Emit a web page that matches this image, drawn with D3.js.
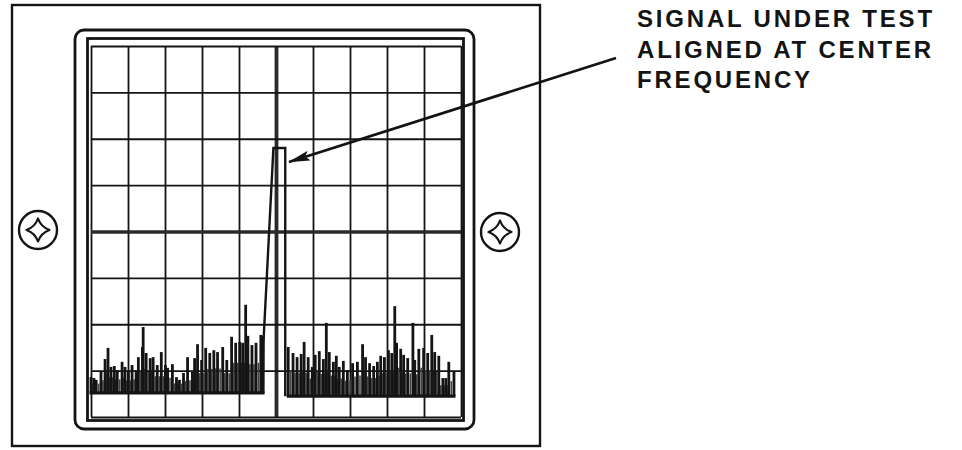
<!DOCTYPE html>
<html>
<head>
<meta charset="utf-8">
<script src="https://cdn.jsdelivr.net/npm/d3@7"></script>
<style>
  html, body { margin: 0; padding: 0; background: #fff; }
  svg { display: block; }
</style>
</head>
<body>
<svg id="chart" width="962" height="450"></svg>
<script>
// ---------------- DATA (graticule divisions) ----------------
const gridColumns = 10;          // horizontal divisions (frequency)
const gridRows = 8;              // vertical divisions (amplitude)

// Noise below the centre (left half of the display)
const leftNoiseFreq = [0.00,0.08,0.14,0.27,0.38,0.46,0.54,0.63,0.71,0.84,0.92,1.01,1.11,1.22,1.28,1.39,1.41,1.49,1.60,1.68,1.79,1.90,2.01,2.07,2.20,2.31,2.39,2.50,2.61,2.74,2.80,2.88,2.99,3.10,3.21,3.32,3.42,3.56,3.67,3.80,3.91,4.02,4.10,4.18,4.24,4.35,4.46,4.59,4.65];
const leftNoiseLevel = [0.86,0.84,0.80,0.97,1.25,1.49,1.08,1.10,1.01,1.19,1.08,0.97,1.12,1.01,1.29,1.51,1.94,1.38,1.27,1.29,1.12,1.40,1.12,1.06,1.14,0.86,0.80,0.95,1.29,0.97,1.27,1.57,1.23,1.49,1.38,1.44,1.40,1.51,1.23,1.73,1.60,1.62,1.60,2.42,1.75,1.55,1.60,1.77,1.75];

// Noise above the centre (right half of the display)
const rightNoiseFreq = [5.33,5.46,5.57,5.68,5.76,5.87,5.98,6.06,6.17,6.28,6.36,6.44,6.55,6.63,6.71,6.82,6.93,7.07,7.20,7.34,7.42,7.53,7.64,7.74,7.83,7.93,8.04,8.13,8.21,8.26,8.37,8.45,8.56,8.70,8.75,8.86,8.99,9.10,9.21,9.29,9.40,9.51,9.59,9.67,9.81];
const rightNoiseLevel = [1.51,1.38,1.29,1.36,1.62,1.29,1.08,1.34,1.42,1.25,2.03,1.40,1.19,1.32,1.08,1.21,1.01,1.16,1.19,1.57,1.29,1.16,1.10,1.19,1.32,1.29,1.44,1.38,2.39,1.60,1.47,1.34,1.27,2.03,1.23,1.47,1.49,1.38,1.77,1.40,1.32,0.84,0.84,1.19,0.99];

const leftFloor = 0.52;
const rightFloor = 0.45;

// Signal under test (trace outline)
const signalFreq  = [4.65, 4.66, 4.93, 5.25, 5.25];
const signalLevel = [0.52, 1.60, 5.80, 5.80, 0.45];

const labelLines = ["SIGNAL UNDER TEST", "ALIGNED AT CENTER", "FREQUENCY"];

// ---------------- DRAWING ----------------
const svg = d3.select("#chart");
const ink = "#141414";

const x = d3.scaleLinear().domain([0, gridColumns]).range([91, 461]);
const y = d3.scaleLinear().domain([0, gridRows]).range([417, 46]);

// Outer panel
svg.append("rect").attr("x", 12).attr("y", 5).attr("width", 528).attr("height", 441)
  .attr("fill", "none").attr("stroke", ink).attr("stroke-width", 2.4);

// Bezel
svg.append("rect").attr("x", 75).attr("y", 30).attr("width", 399).attr("height", 399)
  .attr("rx", 9).attr("fill", "none").attr("stroke", ink).attr("stroke-width", 2.8);

// Screen border
svg.append("rect").attr("x", 87.5).attr("y", 38.5).attr("width", 376).attr("height", 382)
  .attr("fill", "none").attr("stroke", ink).attr("stroke-width", 2.8);

// Graticule through axes
const plot = svg.append("g");
const gx = plot.append("g").attr("transform", `translate(0,${y(0)})`)
  .call(d3.axisBottom(x).ticks(gridColumns).tickSize(-(y(0) - y(gridRows))).tickFormat(""));
const gy = plot.append("g").attr("transform", `translate(${x(0)},0)`)
  .call(d3.axisLeft(y).ticks(gridRows).tickSize(-(x(gridColumns) - x(0))).tickFormat(""));
[gx, gy].forEach(g => {
  g.select(".domain").remove();
  g.selectAll(".tick line").attr("stroke", ink).attr("stroke-width", 1.8);
});
gx.selectAll(".tick").filter(d => d === gridColumns / 2).select("line").attr("stroke-width", 3.8).attr("stroke", "#2a2a2a");
gy.selectAll(".tick").filter(d => d === gridRows / 2).select("line").attr("stroke-width", 3.4).attr("stroke", "#2a2a2a");

// Noise floor bands
function noiseBand(freqs, levels, floor) {
  const g = plot.append("g");
  const xs = d3.extent(freqs);
  const pts = freqs.map((f, i) => [f, levels[i]]);
  // fine grass between the main bars
  const mids = d3.pairs(pts)
    .map(([a, b]) => [(a[0] + b[0]) / 2, floor + (Math.min(a[1], b[1]) - floor) * 0.6]);
  g.selectAll("line.grass").data(mids).join("line")
    .attr("class", "grass")
    .attr("x1", d => x(d[0])).attr("x2", d => x(d[0]))
    .attr("y1", y(floor)).attr("y2", d => y(Math.max(d[1], floor + 0.2)))
    .attr("stroke", "#444").attr("stroke-width", 1.6);
  g.selectAll("line.bar").data(pts).join("line")
    .attr("class", "bar")
    .attr("x1", d => x(d[0])).attr("x2", d => x(d[0]))
    .attr("y1", y(floor)).attr("y2", d => y(d[1]))
    .attr("stroke", ink).attr("stroke-width", 2.8);
  g.append("line").attr("x1", x(xs[0]) - 1.5).attr("x2", x(xs[1]) + 1.5)
    .attr("y1", y(floor)).attr("y2", y(floor)).attr("stroke", ink).attr("stroke-width", 3.2);
}
noiseBand(leftNoiseFreq, leftNoiseLevel, leftFloor);
noiseBand(rightNoiseFreq, rightNoiseLevel, rightFloor);

// Signal
plot.append("path")
  .datum(signalFreq.map((f, i) => [f, signalLevel[i]]))
  .attr("d", d3.line().x(d => x(d[0])).y(d => y(d[1])))
  .attr("fill", "none").attr("stroke", ink).attr("stroke-width", 2.4).attr("stroke-linejoin", "miter");

// Screws
function screw(cx, cy) {
  const g = svg.append("g").attr("transform", `translate(${cx},${cy})`);
  g.append("circle").attr("r", 19).attr("fill", "#fff").attr("stroke", ink).attr("stroke-width", 2.4);
  g.append("path")
    .attr("d", "M0,-11.5 Q3,-3 11.5,0 Q3,3 0,11.5 Q-3,3 -11.5,0 Q-3,-3 0,-11.5 Z")
    .attr("fill", "none").attr("stroke", ink).attr("stroke-width", 2.2).attr("stroke-linejoin", "round");
}
screw(38, 230);
screw(500, 232);

// Arrow
const defs = svg.append("defs");
defs.append("marker").attr("id", "arrowhead").attr("viewBox", "0 0 22 10")
  .attr("refX", 21).attr("refY", 5).attr("markerWidth", 22).attr("markerHeight", 10)
  .attr("markerUnits", "userSpaceOnUse").attr("orient", "auto")
  .append("path").attr("d", "M0,0 L22,5 L0,10 L4,5 Z").attr("fill", ink);
svg.append("line").attr("x1", 616).attr("y1", 58).attr("x2", 289).attr("y2", 162)
  .attr("stroke", ink).attr("stroke-width", 2.8).attr("marker-end", "url(#arrowhead)");

// Label
svg.append("g").selectAll("text").data(labelLines).join("text")
  .attr("x", 637).attr("y", (d, i) => 27 + i * 30.5)
  .attr("font-family", "'Liberation Sans', Arial, Helvetica, sans-serif")
  .attr("font-weight", "bold").attr("font-size", 24)
  .attr("letter-spacing", 2.8)
  .attr("fill", ink)
  .text(d => d);
</script>
</body>
</html>
